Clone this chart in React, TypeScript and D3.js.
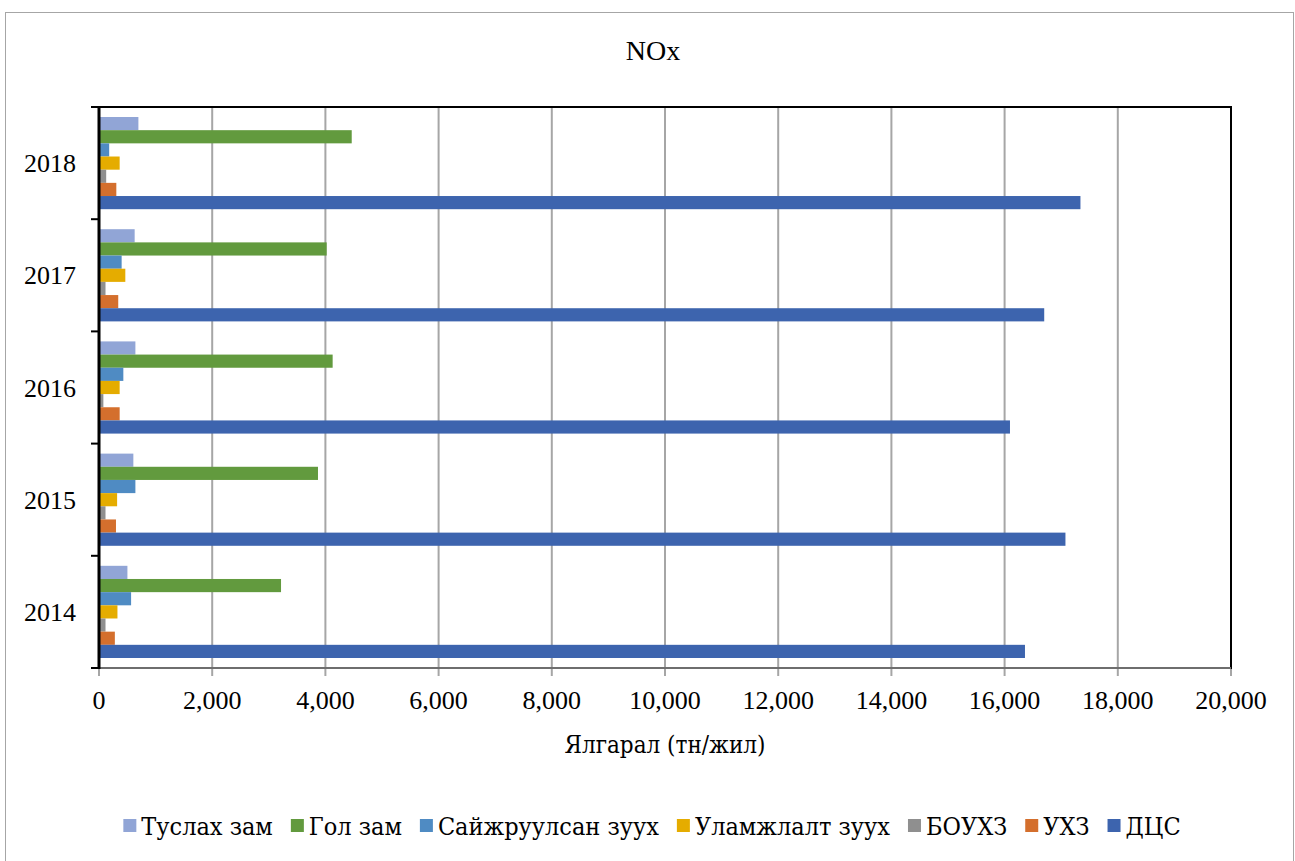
import React, { useEffect, useRef } from "react";
import * as d3 from "d3";

const years = ["2018", "2017", "2016", "2015", "2014"];
const seriesNames = [
  "Туслах зам",
  "Гол зам",
  "Сайжруулсан зуух",
  "Уламжлалт зуух",
  "БОУХЗ",
  "УХЗ",
  "ДЦС",
];
const seriesColors = ["#91A5D6", "#629A3E", "#4F8BC3", "#E5AC00", "#8F8F8F", "#D46F2D", "#3D64AE"];

// values listed per year in the same order as `years` (2018 → 2014)
const tuslahZam = [696, 630, 643, 607, 502];
const golZam = [4465, 4023, 4128, 3869, 3216];
const saijruulsanZuukh = [180, 400, 430, 643, 567];
const ulamjlaltZuukh = [365, 465, 365, 320, 326];
const bouhz = [127, 115, 77, 115, 115];
const uhz = [306, 340, 365, 300, 280];
const dcs = [17340, 16700, 16095, 17075, 16360];

const xTicks = [0, 2000, 4000, 6000, 8000, 10000, 12000, 14000, 16000, 18000, 20000];

export default function App() {
  const ref = useRef<SVGSVGElement>(null);

  useEffect(() => {
    const width = 1295;
    const height = 861;
    const left = 99;
    const right = 1231;
    const top = 107;
    const bottom = 668;
    const font = "'Liberation Serif', serif";
    // Liberation Serif here has no Cyrillic glyphs
    const cyrFont = "'DejaVu Serif Condensed', 'DejaVu Serif', serif";

    const values = [tuslahZam, golZam, saijruulsanZuukh, ulamjlaltZuukh, bouhz, uhz, dcs];

    const svg = d3.select(ref.current);
    svg.selectAll("*").remove();
    svg
      .attr("width", width)
      .attr("height", height)
      .attr("viewBox", [0, 0, width, height])
      .style("position", "absolute")
      .style("left", 0)
      .style("top", 0)
      .style("font-family", font);

    svg.append("rect").attr("width", width).attr("height", height).attr("fill", "#fff");

    // outer chart frame
    svg
      .append("rect")
      .attr("x", 5.5)
      .attr("y", 12.5)
      .attr("width", 1288)
      .attr("height", 860)
      .attr("fill", "none")
      .attr("stroke", "#A6A6A6");

    const x = d3.scaleLinear([0, 20000], [left, right]);
    const y = d3.scaleBand(years, [top, bottom]);
    const sub = d3.scaleBand(seriesNames, [0, y.bandwidth()]).paddingOuter(0.76);

    // grid
    svg
      .append("g")
      .selectAll("line")
      .data(xTicks.slice(1, -1))
      .join("line")
      .attr("x1", (d) => x(d))
      .attr("x2", (d) => x(d))
      .attr("y1", top)
      .attr("y2", bottom)
      .attr("stroke", "#A6A6A6")
      .attr("stroke-width", 2);

    // bars
    seriesNames.forEach((name, si) => {
      svg
        .append("g")
        .attr("fill", seriesColors[si])
        .selectAll("rect")
        .data(values[si])
        .join("rect")
        .attr("x", x(0))
        .attr("y", (d, i) => (y(years[i]) as number) + (sub(name) as number))
        .attr("width", (d) => x(d) - x(0))
        .attr("height", sub.bandwidth());
    });

    // plot frame
    svg
      .append("rect")
      .attr("x", left)
      .attr("y", top)
      .attr("width", right - left)
      .attr("height", bottom - top)
      .attr("fill", "none")
      .attr("stroke", "#000")
      .attr("stroke-width", 2);

    // x axis
    const xAxis = svg.append("g").attr("transform", `translate(0,${bottom})`);
    xAxis
      .append("line")
      .attr("x1", left - 6)
      .attr("x2", right)
      .attr("stroke", "#6E6E6E")
      .attr("stroke-width", 2);
    xAxis
      .selectAll("line.tick")
      .data(xTicks)
      .join("line")
      .attr("class", "tick")
      .attr("x1", (d) => x(d))
      .attr("x2", (d) => x(d))
      .attr("y1", 1)
      .attr("y2", 8)
      .attr("stroke", "#A6A6A6")
      .attr("stroke-width", 2);
    xAxis
      .selectAll("text")
      .data(xTicks)
      .join("text")
      .attr("x", (d) => x(d))
      .attr("y", 41)
      .attr("text-anchor", "middle")
      .attr("font-size", 26)
      .attr("fill", "#000")
      .text((d) => d3.format(",")(d));

    // y axis
    const yAxis = svg.append("g");
    yAxis
      .append("line")
      .attr("x1", left)
      .attr("x2", left)
      .attr("y1", top)
      .attr("y2", bottom + 1)
      .attr("stroke", "#000")
      .attr("stroke-width", 3);
    const bounds = years.map((yr) => y(yr) as number).concat([bottom]);
    yAxis
      .selectAll("line.tick")
      .data(bounds)
      .join("line")
      .attr("class", "tick")
      .attr("x1", left - 8)
      .attr("x2", left)
      .attr("y1", (d) => d)
      .attr("y2", (d) => d)
      .attr("stroke", "#000")
      .attr("stroke-width", 2);
    yAxis
      .selectAll("text")
      .data(years)
      .join("text")
      .attr("x", 76)
      .attr("y", (d) => (y(d) as number) + y.bandwidth() / 2)
      .attr("dy", "0.35em")
      .attr("text-anchor", "end")
      .attr("font-size", 26)
      .attr("fill", "#000")
      .text((d) => d);

    // titles
    svg
      .append("text")
      .attr("x", 653)
      .attr("y", 60)
      .attr("text-anchor", "middle")
      .attr("font-size", 28)
      .text("NOx");
    svg
      .append("text")
      .attr("x", 665)
      .attr("y", 753)
      .attr("text-anchor", "middle")
      .attr("font-size", 24)
      .attr("font-family", cyrFont)
      .text("Ялгарал (тн/жил)");

    // legend
    const legend = svg.append("g");
    const items = legend
      .selectAll("g")
      .data(seriesNames)
      .join("g");
    items
      .append("rect")
      .attr("width", 13)
      .attr("height", 13)
      .attr("y", -7)
      .attr("fill", (d, i) => seriesColors[i]);
    items
      .append("text")
      .attr("x", 18)
      .attr("dy", "0.35em")
      .attr("font-size", 25)
      .attr("font-family", cyrFont)
      .text((d) => d);
    let cx = 0;
    const offsets: number[] = [];
    items.each(function () {
      offsets.push(cx);
      const t = d3.select(this).select("text").node() as SVGTextElement;
      cx += 18 + t.getComputedTextLength() + 18;
    });
    const total = cx - 18;
    const start = 652 - total / 2;
    items.attr("transform", (d, i) => `translate(${start + offsets[i]},826)`);
  }, []);

  return <svg ref={ref} />;
}
